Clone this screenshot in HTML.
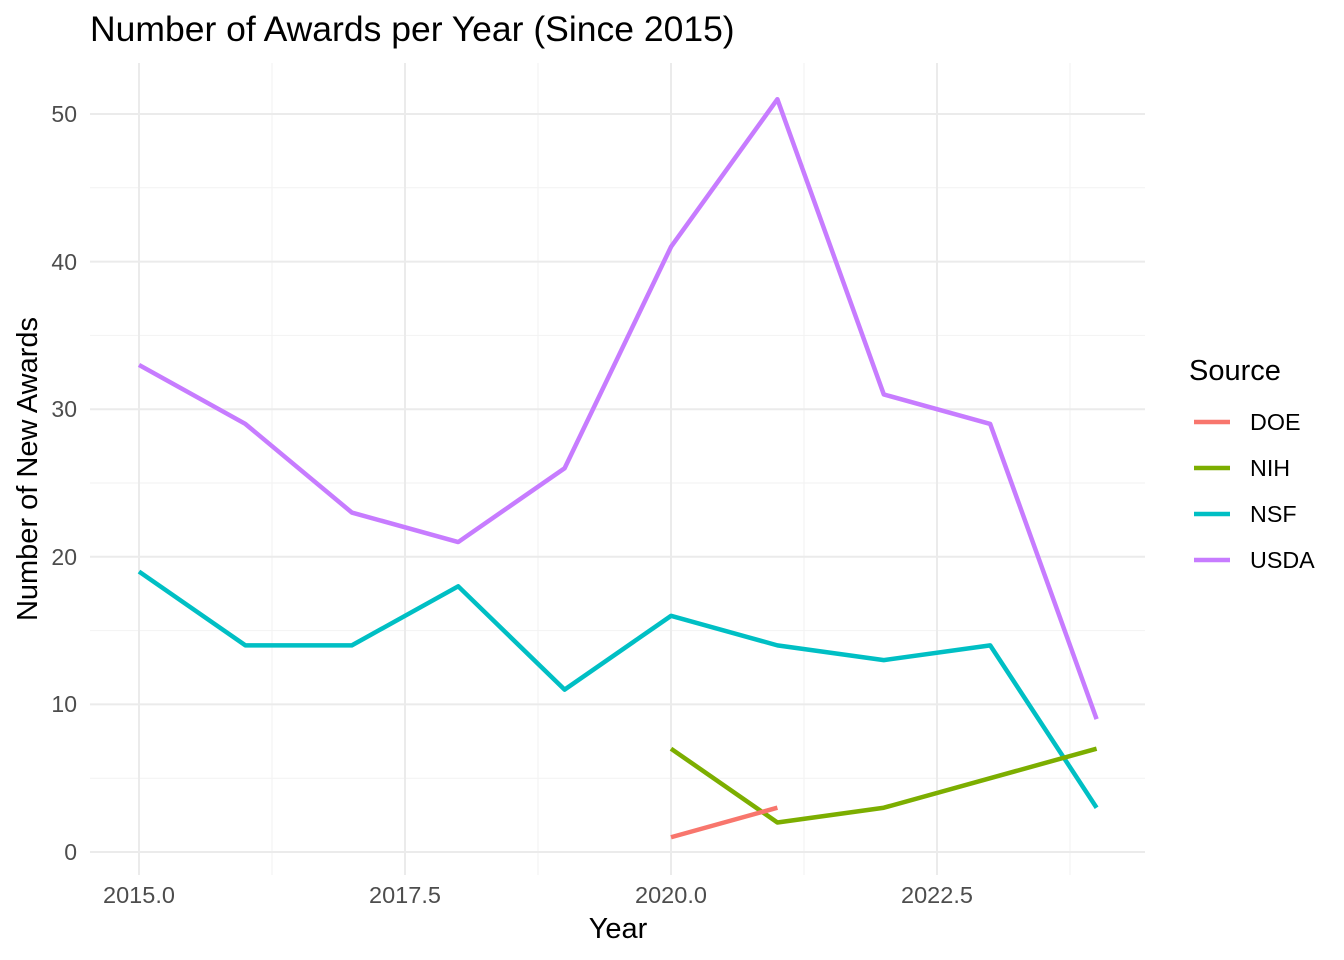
<!DOCTYPE html>
<html><head><meta charset="utf-8"><style>
html,body{margin:0;padding:0;background:#fff}
svg{display:block;font-family:"Liberation Sans",sans-serif}
</style></head><body>
<svg width="1344" height="960" viewBox="0 0 1344 960" xmlns="http://www.w3.org/2000/svg">
<rect width="1344" height="960" fill="#fff"/>
<g stroke="#f2f2f2" stroke-width="1">
<line x1="90" x2="1145" y1="778.2" y2="778.2"/>
<line x1="90" x2="1145" y1="630.6" y2="630.6"/>
<line x1="90" x2="1145" y1="483" y2="483"/>
<line x1="90" x2="1145" y1="335.4" y2="335.4"/>
<line x1="90" x2="1145" y1="187.8" y2="187.8"/>
<line y1="63" y2="875" x1="272" x2="272"/>
<line y1="63" y2="875" x1="538" x2="538"/>
<line y1="63" y2="875" x1="804" x2="804"/>
<line y1="63" y2="875" x1="1070" x2="1070"/>
</g>
<g stroke="#ebebeb" stroke-width="2">
<line x1="90" x2="1145" y1="852" y2="852"/>
<line x1="90" x2="1145" y1="704.4" y2="704.4"/>
<line x1="90" x2="1145" y1="556.8" y2="556.8"/>
<line x1="90" x2="1145" y1="409.2" y2="409.2"/>
<line x1="90" x2="1145" y1="261.6" y2="261.6"/>
<line x1="90" x2="1145" y1="114" y2="114"/>
<line y1="63" y2="875" x1="139" x2="139"/>
<line y1="63" y2="875" x1="405" x2="405"/>
<line y1="63" y2="875" x1="671" x2="671"/>
<line y1="63" y2="875" x1="937" x2="937"/>
</g>
<g transform="translate(139,852) scale(106.4,-14.76)" fill="none" stroke-width="4.5" stroke-linejoin="round">
<polyline vector-effect="non-scaling-stroke" stroke="#C77CFF" points="0,33 1,29 2,23 3,21 4,26 5,41 6,51 7,31 8,29 9,9"/>
<polyline vector-effect="non-scaling-stroke" stroke="#00BFC4" points="0,19 1,14 2,14 3,18 4,11 5,16 6,14 7,13 8,14 9,3"/>
<polyline vector-effect="non-scaling-stroke" stroke="#7CAE00" points="5,7 6,2 7,3 8,5 9,7"/>
<polyline vector-effect="non-scaling-stroke" stroke="#F8766D" points="5,1 6,3"/>
</g>
<g fill="#4d4d4d" font-size="23" text-anchor="end">
<text x="77" y="860">0</text>
<text x="77" y="712">10</text>
<text x="77" y="565">20</text>
<text x="77" y="417">30</text>
<text x="77" y="270">40</text>
<text x="77" y="122">50</text>
</g>
<g fill="#4d4d4d" font-size="23.5" text-anchor="middle">
<text x="139" y="903">2015.0</text>
<text x="405" y="903">2017.5</text>
<text x="671" y="903">2020.0</text>
<text x="937" y="903">2022.5</text>
</g>
<text x="618" y="938" font-size="29" text-anchor="middle" fill="#000">Year</text>
<text transform="translate(37,469) rotate(-90)" font-size="29" text-anchor="middle" fill="#000">Number of New Awards</text>
<text x="90" y="41" font-size="35.5" fill="#000">Number of Awards per Year (Since 2015)</text>
<text x="1189" y="380" font-size="29" fill="#000">Source</text>
<g stroke-width="4.5">
<line x1="1194" x2="1230" y1="422" y2="422" stroke="#F8766D"/>
<line x1="1194" x2="1230" y1="468" y2="468" stroke="#7CAE00"/>
<line x1="1194" x2="1230" y1="514" y2="514" stroke="#00BFC4"/>
<line x1="1194" x2="1230" y1="560" y2="560" stroke="#C77CFF"/>
</g>
<g font-size="23.3" fill="#000">
<text x="1250" y="430">DOE</text>
<text x="1250" y="476">NIH</text>
<text x="1250" y="522">NSF</text>
<text x="1250" y="568">USDA</text>
</g>
</svg>
</body></html>
